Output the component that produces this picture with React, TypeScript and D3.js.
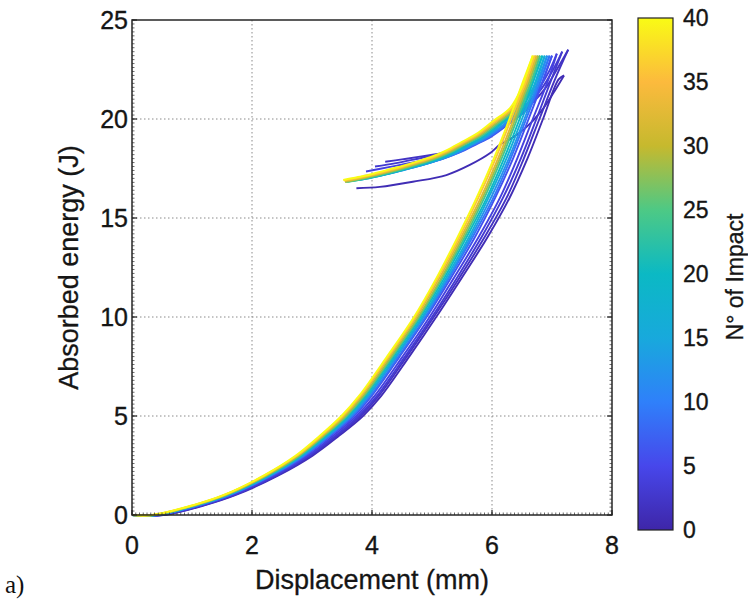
import React from 'react';
import * as d3 from 'd3';

// ---------- data ----------
const X_TICKS = [0, 2, 4, 6, 8];
const Y_TICKS = [0, 5, 10, 15, 20, 25];
const CBAR_TICKS = [0, 5, 10, 15, 20, 25, 30, 35, 40];

const IMPACTS = [1, 2, 3, 4, 6, 9, 12, 16, 20, 24, 28, 32, 36, 40];

// absorbed energy levels (J) at which the loading displacement was read
const LOAD_ENERGY = [0, 0, 0.5, 1, 2, 3, 4, 5, 6, 8, 10, 12, 14, 16, 18, 20, 22];

// loading displacement (mm) per impact at LOAD_ENERGY
const LOAD_I1 = [0, 0.53, 1.22, 1.72, 2.44, 3.01, 3.45, 3.85, 4.15, 4.62, 5.07, 5.5, 5.92, 6.29, 6.59, 6.85, 7.11];
const LOAD_I2 = [0, 0.51, 1.2, 1.7, 2.42, 2.98, 3.42, 3.81, 4.11, 4.58, 5.03, 5.46, 5.87, 6.24, 6.53, 6.79, 7.05];
const LOAD_I3 = [0, 0.49, 1.18, 1.68, 2.39, 2.95, 3.39, 3.78, 4.08, 4.55, 5.0, 5.42, 5.82, 6.18, 6.48, 6.74, 6.99];
const LOAD_I4 = [0, 0.47, 1.16, 1.66, 2.37, 2.93, 3.35, 3.74, 4.04, 4.51, 4.96, 5.37, 5.77, 6.13, 6.42, 6.68, 6.94];
const LOAD_I6 = [0, 0.44, 1.13, 1.63, 2.34, 2.89, 3.31, 3.7, 3.99, 4.46, 4.91, 5.32, 5.71, 6.05, 6.35, 6.61, 6.86];
const LOAD_I9 = [0, 0.43, 1.12, 1.62, 2.32, 2.87, 3.29, 3.67, 3.97, 4.44, 4.89, 5.29, 5.67, 6.02, 6.31, 6.57, 6.82];
const LOAD_I12 = [0, 0.42, 1.11, 1.61, 2.31, 2.85, 3.27, 3.65, 3.94, 4.41, 4.86, 5.27, 5.64, 5.98, 6.28, 6.54, 6.79];
const LOAD_I16 = [0, 0.4, 1.09, 1.59, 2.29, 2.83, 3.25, 3.62, 3.92, 4.39, 4.84, 5.24, 5.61, 5.94, 6.24, 6.5, 6.75];
const LOAD_I20 = [0, 0.39, 1.08, 1.58, 2.27, 2.81, 3.23, 3.6, 3.89, 4.36, 4.81, 5.21, 5.57, 5.91, 6.2, 6.46, 6.7];
const LOAD_I24 = [0, 0.38, 1.07, 1.57, 2.26, 2.8, 3.21, 3.58, 3.87, 4.34, 4.79, 5.18, 5.54, 5.87, 6.16, 6.42, 6.67];
const LOAD_I28 = [0, 0.37, 1.06, 1.56, 2.24, 2.78, 3.19, 3.56, 3.85, 4.32, 4.77, 5.16, 5.51, 5.84, 6.13, 6.39, 6.63];
const LOAD_I32 = [0, 0.35, 1.04, 1.54, 2.23, 2.76, 3.17, 3.53, 3.82, 4.29, 4.74, 5.13, 5.48, 5.81, 6.1, 6.36, 6.6];
const LOAD_I36 = [0, 0.34, 1.03, 1.53, 2.21, 2.75, 3.15, 3.51, 3.8, 4.27, 4.72, 5.1, 5.45, 5.77, 6.06, 6.32, 6.57];
const LOAD_I40 = [0, 0.33, 1.02, 1.52, 2.2, 2.73, 3.13, 3.49, 3.78, 4.25, 4.7, 5.08, 5.42, 5.74, 6.03, 6.29, 6.53];

// peak (displacement mm, energy J) per impact, same order as IMPACTS
const PEAK_DISP = [7.2, 7.27, 7.17, 7.08, 7.0, 6.96, 6.92, 6.88, 6.84, 6.8, 6.77, 6.74, 6.71, 6.68];
const PEAK_ENERGY = [22.2, 23.5, 23.4, 23.3, 23.2, 23.2, 23.2, 23.2, 23.2, 23.2, 23.2, 23.2, 23.2, 23.2];

// unloading path [displacement mm, energy J] after the peak
const UNLOAD_I1 = [[7.02, 21.3], [6.82, 20.4], [6.56, 19.55], [6.3, 18.98], [6.13, 18.7], [5.97, 18.28], [5.63, 17.68], [5.24, 17.17], [4.68, 16.83], [4.13, 16.57], [3.74, 16.5]];
const UNLOAD_I2 = [[7.1, 22.6], [6.9, 21.6], [6.6, 20.6], [6.28, 19.8], [5.97, 19.22], [5.6, 18.65], [5.25, 18.32], [4.8, 18.1], [4.5, 17.96], [4.22, 17.84]];
const UNLOAD_I3 = [[7.02, 22.5], [6.82, 21.5], [6.53, 20.5], [6.22, 19.72], [5.91, 19.12], [5.52, 18.57], [5.2, 18.27], [4.8, 18.02], [4.4, 17.77], [4.05, 17.6]];
const UNLOAD_I4 = [[6.95, 22.4], [6.75, 21.4], [6.48, 20.4], [6.18, 19.65], [5.88, 19.05], [5.52, 18.52], [5.12, 18.12], [4.72, 17.83], [4.3, 17.58], [3.9, 17.35]];
const UNLOAD_I6 = [[6.89, 22.3], [6.8, 21.55], [6.61, 20.55], [6.3, 19.8], [5.98, 19.1], [5.73, 18.71], [5.46, 18.31], [5.19, 18.0], [4.91, 17.76], [4.62, 17.55], [4.33, 17.35], [4.06, 17.2], [3.85, 17.12]];
const UNLOAD_I9 = [[6.85, 22.3], [6.76, 21.55], [6.57, 20.55], [6.27, 19.8], [5.95, 19.1], [5.7, 18.7], [5.43, 18.29], [5.16, 17.97], [4.88, 17.71], [4.59, 17.48], [4.3, 17.27], [4.02, 17.1], [3.78, 17.0]];
const UNLOAD_I12 = [[6.81, 22.3], [6.72, 21.55], [6.53, 20.55], [6.23, 19.8], [5.92, 19.11], [5.67, 18.7], [5.4, 18.28], [5.13, 17.95], [4.85, 17.68], [4.56, 17.45], [4.27, 17.23], [3.98, 17.05], [3.7, 16.93]];
const UNLOAD_I16 = [[6.77, 22.3], [6.68, 21.55], [6.49, 20.55], [6.19, 19.81], [5.89, 19.12], [5.64, 18.71], [5.37, 18.28], [5.1, 17.94], [4.82, 17.67], [4.53, 17.43], [4.24, 17.2], [3.95, 17.01], [3.65, 16.88]];
const UNLOAD_I20 = [[6.73, 22.3], [6.64, 21.55], [6.45, 20.55], [6.16, 19.82], [5.86, 19.13], [5.61, 18.72], [5.34, 18.29], [5.07, 17.95], [4.79, 17.68], [4.51, 17.43], [4.22, 17.2], [3.93, 17.0], [3.6, 16.84]];
const UNLOAD_I24 = [[6.7, 22.3], [6.61, 21.55], [6.42, 20.55], [6.13, 19.83], [5.83, 19.15], [5.58, 18.75], [5.32, 18.32], [5.05, 17.97], [4.77, 17.7], [4.49, 17.45], [4.2, 17.22], [3.91, 17.01], [3.57, 16.82]];
const UNLOAD_I28 = [[6.67, 22.3], [6.58, 21.55], [6.39, 20.55], [6.1, 19.84], [5.8, 19.17], [5.56, 18.77], [5.3, 18.34], [5.03, 17.99], [4.75, 17.72], [4.47, 17.47], [4.18, 17.24], [3.89, 17.03], [3.55, 16.82]];
const UNLOAD_I32 = [[6.64, 22.3], [6.55, 21.55], [6.36, 20.55], [6.07, 19.86], [5.78, 19.2], [5.54, 18.8], [5.28, 18.37], [5.01, 18.02], [4.73, 17.75], [4.45, 17.5], [4.17, 17.27], [3.88, 17.06], [3.55, 16.86]];
const UNLOAD_I36 = [[6.61, 22.3], [6.52, 21.55], [6.33, 20.55], [6.05, 19.88], [5.76, 19.22], [5.52, 18.82], [5.26, 18.39], [4.99, 18.04], [4.71, 17.77], [4.43, 17.52], [4.15, 17.3], [3.87, 17.09], [3.53, 16.89]];
const UNLOAD_I40 = [[6.58, 22.3], [6.49, 21.55], [6.3, 20.55], [6.02, 19.9], [5.74, 19.25], [5.5, 18.85], [5.24, 18.42], [4.97, 18.07], [4.69, 17.8], [4.41, 17.55], [4.13, 17.33], [3.86, 17.12], [3.52, 16.92]];

const LOADS = [LOAD_I1, LOAD_I2, LOAD_I3, LOAD_I4, LOAD_I6, LOAD_I9, LOAD_I12, LOAD_I16, LOAD_I20, LOAD_I24, LOAD_I28, LOAD_I32, LOAD_I36, LOAD_I40];
const UNLOADS = [UNLOAD_I1, UNLOAD_I2, UNLOAD_I3, UNLOAD_I4, UNLOAD_I6, UNLOAD_I9, UNLOAD_I12, UNLOAD_I16, UNLOAD_I20, UNLOAD_I24, UNLOAD_I28, UNLOAD_I32, UNLOAD_I36, UNLOAD_I40];

// parula-like colormap stops (0 -> 40)
const PARULA = ['#3e26a8', '#4747eb', '#2f80fa', '#18a9dc', '#0bb9c4', '#4dc985', '#c6b92e', '#fcba3d', '#f9fb15'];

// ---------- layout ----------
const W = 748, H = 606;
const PL = 132, PR = 612, PT = 20, PB = 515;
const CB_X0 = 638, CB_X1 = 673, CB_T = 18, CB_B = 530;
const FONT = '"Liberation Sans", Arial, Helvetica, sans-serif';
const INK = '#151515';

export default function App() {
  const x = d3.scaleLinear().domain([0, 8]).range([PL, PR]);
  const y = d3.scaleLinear().domain([0, 25]).range([PB, PT]);
  const cy = d3.scaleLinear().domain([0, 40]).range([CB_B, CB_T]);
  const color = d3
    .scaleLinear<string>()
    .domain(PARULA.map((_, i) => (i / (PARULA.length - 1)) * 40))
    .range(PARULA)
    .interpolate(d3.interpolateRgb);

  const line = d3
    .line<number[]>()
    .x((d) => x(d[0]))
    .y((d) => y(d[1]))
    .curve(d3.curveCatmullRom.alpha(0.5));

  const curves = IMPACTS.map((n, k) => {
    const peak = [PEAK_DISP[k], PEAK_ENERGY[k]];
    const load = LOAD_ENERGY.map((e, i) => [LOADS[k][i], e]);
    load.push(peak);
    const unload = [peak, ...UNLOADS[k]];
    return { n, load, unload };
  });

  const yMinor = d3.range(0, 25.001, 0.2);
  const xMinor = d3.range(0, 8.001, 0.0625);

  return (
    <svg
      width={W}
      height={H}
      style={{ position: 'absolute', left: 0, top: 0, background: '#fff' }}
      fontFamily={FONT}
    >
      <defs>
        <linearGradient id="parula" x1="0" y1="1" x2="0" y2="0">
          {PARULA.map((c, i) => (
            <stop key={i} offset={i / (PARULA.length - 1)} stopColor={c} />
          ))}
        </linearGradient>
        <clipPath id="plotclip">
          <rect x={PL} y={PT - 2} width={PR - PL} height={PB - PT + 4} />
        </clipPath>
      </defs>

      {/* grid */}
      <g stroke="#8a8a8a" strokeWidth={1} strokeDasharray="1.5 2.5">
        {X_TICKS.slice(1, -1).map((t) => (
          <line key={'gx' + t} x1={x(t)} x2={x(t)} y1={PT} y2={PB} />
        ))}
        {Y_TICKS.slice(1, -1).map((t) => (
          <line key={'gy' + t} x1={PL} x2={PR} y1={y(t)} y2={y(t)} />
        ))}
      </g>

      {/* curves */}
      <g clipPath="url(#plotclip)" fill="none" strokeWidth={1.9} strokeLinejoin="round">
        {curves.map((c) => (
          <g key={c.n} stroke={color(c.n)}>
            <path d={line(c.load) || ''} />
            <path d={line(c.unload) || ''} />
          </g>
        ))}
      </g>

      {/* minor ticks */}
      <g stroke="#444" strokeWidth={0.8}>
        {yMinor.map((t, i) => (
          <g key={'ym' + i}>
            <line x1={PL} x2={PL + 2.5} y1={y(t)} y2={y(t)} />
            <line x1={PR} x2={PR - 2.5} y1={y(t)} y2={y(t)} />
          </g>
        ))}
        {xMinor.map((t, i) => (
          <line key={'xm' + i} x1={x(t)} x2={x(t)} y1={PB} y2={PB - 2.5} />
        ))}
      </g>
      {/* major ticks */}
      <g stroke="#222" strokeWidth={1.2}>
        {Y_TICKS.map((t) => (
          <g key={'yM' + t}>
            <line x1={PL} x2={PL + 5} y1={y(t)} y2={y(t)} />
            <line x1={PR} x2={PR - 5} y1={y(t)} y2={y(t)} />
          </g>
        ))}
        {X_TICKS.map((t) => (
          <line key={'xM' + t} x1={x(t)} x2={x(t)} y1={PB} y2={PB - 5} />
        ))}
      </g>

      {/* frame */}
      <rect x={PL} y={PT} width={PR - PL} height={PB - PT} fill="none" stroke="#262626" strokeWidth={1.5} />

      {/* tick labels */}
      <g fontSize={25} fill={INK} stroke={INK} strokeWidth={0.35}>
        {X_TICKS.map((t) => (
          <text key={'xl' + t} x={x(t)} y={554} textAnchor="middle">
            {t}
          </text>
        ))}
        {Y_TICKS.map((t) => (
          <text key={'yl' + t} x={128} y={y(t)} dy="0.35em" textAnchor="end">
            {t}
          </text>
        ))}
      </g>

      {/* axis titles */}
      <text x={(PL + PR) / 2} y={589} textAnchor="middle" fontSize={27} fill={INK} stroke={INK} strokeWidth={0.3}>
        Displacement (mm)
      </text>
      <text
        transform={`translate(69, ${(PT + PB) / 2}) rotate(-90)`}
        textAnchor="middle"
        dy="0.35em"
        fontSize={27}
        fill={INK}
        stroke={INK}
        strokeWidth={0.3}
      >
        Absorbed energy (J)
      </text>

      {/* colorbar */}
      <rect x={CB_X0} y={CB_T} width={CB_X1 - CB_X0} height={CB_B - CB_T} fill="url(#parula)" stroke="#222" strokeWidth={1.2} />
      <g fontSize={23} fill={INK} stroke={INK} strokeWidth={0.35}>
        {CBAR_TICKS.map((t) => (
          <text key={'cl' + t} x={683} y={cy(t)} dy="0.35em">
            {t}
          </text>
        ))}
      </g>
      <text
        transform={`translate(735, 277) rotate(-90)`}
        textAnchor="middle"
        dy="0.35em"
        fontSize={23}
        fill={INK}
        stroke={INK}
        strokeWidth={0.3}
      >
        N° of Impact
      </text>

      {/* panel label */}
      <text x={5} y={593} fontFamily='"Liberation Serif", "Times New Roman", serif' fontSize={25} fill="#111">
        a)
      </text>
    </svg>
  );
}
